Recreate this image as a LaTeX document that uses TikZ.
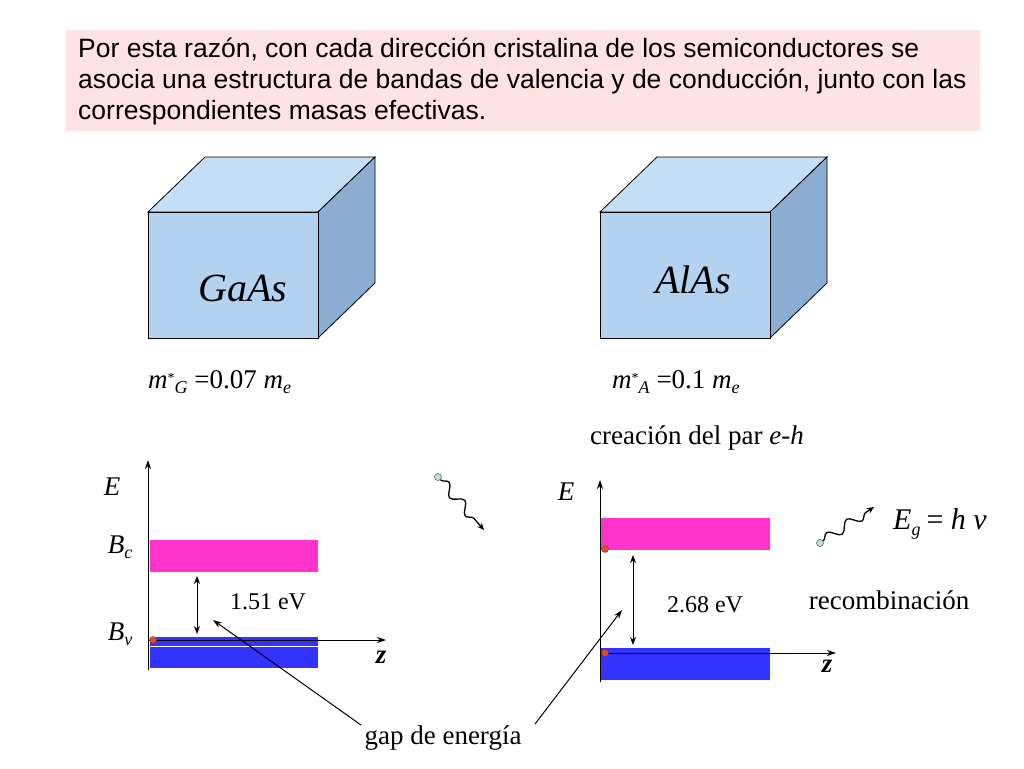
\documentclass[tikz,border=0pt]{standalone}
\usepackage{fontspec}
\setmainfont{Liberation Serif}
\newfontfamily\arial{Liberation Sans}
\usetikzlibrary{decorations.pathmorphing,arrows.meta}
\definecolor{boxpink}{RGB}{255,226,228}
\definecolor{front}{RGB}{178,210,240}
\definecolor{topc}{RGB}{196,222,246}
\definecolor{sidec}{RGB}{140,172,210}
\definecolor{cband}{RGB}{255,51,204}
\definecolor{vband}{RGB}{51,51,255}
\definecolor{dotred}{RGB}{240,70,40}
\definecolor{phot}{RGB}{190,225,225}
\tikzset{
 face/.style={draw=black,line width=0.8pt},
 lbl/.style={inner sep=0pt,font=\fontsize{27}{30}\selectfont},
 ax/.style={-{Stealth[length=9pt,width=6pt]},line width=1pt},
 dbl/.style={{Stealth[length=8pt,width=6pt]}-{Stealth[length=8pt,width=6pt]},line width=1pt},
 ptr/.style={-{Stealth[length=9pt,width=6pt]},line width=1pt},
 edot/.style={circle,fill=dotred,draw=black!70,line width=0.4pt,minimum size=7pt,inner sep=0pt},
 pdot/.style={circle,fill=phot,draw=black!70,line width=0.5pt,minimum size=7pt,inner sep=0pt},
 wave/.style={decorate,decoration={snake,amplitude=5pt,segment length=24pt,post length=5pt},line width=1.3pt,-{Stealth[length=7pt,width=6pt]}}
}
\begin{document}
\begin{tikzpicture}[x=1pt,y=-1pt]
\useasboundingbox (0,0) rectangle (1024,768);
% text box
\node[fill=boxpink,minimum width=914pt,minimum height=101pt,anchor=north west,inner sep=0pt] (tb) at (66,30) {};
\node[anchor=north west,align=left,inner sep=0pt,font=\arial\fontsize{26.5}{31}\selectfont] (tt) at (78,38) {Por esta razón, con cada dirección cristalina de los semiconductores se\\asocia una estructura de bandas de valencia y de conducción, junto con las\\correspondientes masas efectivas.};
% cubes
\foreach \x in {148,600}{
 \fill[topc,face] (\x,212) -- (\x+57,157) -- (\x+227,157) -- (\x+170,212) -- cycle;
 \fill[sidec,face] (\x+170,212) -- (\x+227,157) -- (\x+227,283) -- (\x+170,338) -- cycle;
 \fill[front,face] (\x,212) rectangle (\x+170,338);
}
\node[lbl,font=\fontsize{40}{44}\selectfont\itshape] (ga) at (243,288) {GaAs};
\node[lbl,font=\fontsize{40}{44}\selectfont\itshape] (al) at (693,280) {AlAs};
\node[lbl,anchor=west] (mg) at (148,382) {\textit{m}\raisebox{6pt}{\fontsize{14}{14}\selectfont *}\raisebox{-5pt}{\fontsize{18}{18}\selectfont\textit{G}} =0.07 \textit{m}\raisebox{-5pt}{\fontsize{18}{18}\selectfont\textit{e}}};
\node[lbl,anchor=west] (ma) at (612,382) {\textit{m}\raisebox{6pt}{\fontsize{14}{14}\selectfont *}\raisebox{-5pt}{\fontsize{18}{18}\selectfont\textit{A}} =0.1 \textit{m}\raisebox{-5pt}{\fontsize{18}{18}\selectfont\textit{e}}};
\node[lbl] (cr) at (697,438) {creación del par \textit{e}-\textit{h}};
% left band diagram
\fill[cband] (150,540) rectangle (318,572);
\fill[vband] (150,637) rectangle (318,668);
\draw[white,line width=1pt] (150,646) -- (318,646);
\coordinate (la0) at (148,670); \coordinate (la1) at (148,460);
\draw[ax] (la0) -- (la1);
\coordinate (lz0) at (148,640); \coordinate (lz1) at (386,640);
\draw[ax] (lz0) -- (lz1);
\node[edot] (ld) at (153,640) {};
\coordinate (lg0) at (197,576); \coordinate (lg1) at (197,634);
\draw[dbl] (lg0) -- (lg1);
\node[lbl,font=\fontsize{24}{26}\selectfont] (l151) at (268,602) {1.51 eV};
\node[lbl] (lE) at (112,487) {\textit{E}};
\node[lbl] (lBc) at (120,547) {\textit{B}\raisebox{-5pt}{\fontsize{18}{18}\selectfont\textit{c}}};
\node[lbl] (lBv) at (120,634) {\textit{B}\raisebox{-5pt}{\fontsize{18}{18}\selectfont\textit{v}}};
\node[lbl] (lz) at (381,657) {\textbf{\textit{z}}};
% right band diagram
\fill[cband] (600,518) rectangle (770,550);
\fill[vband] (600,648) rectangle (770,680);
\coordinate (ra0) at (600,682); \coordinate (ra1) at (600,480);
\draw[ax] (ra0) -- (ra1);
\coordinate (rz0) at (600,653); \coordinate (rz1) at (836,653);
\draw[ax] (rz0) -- (rz1);
\node[edot] (rd1) at (605,549) {};
\node[edot] (rd2) at (605,653) {};
\coordinate (rg0) at (633,555); \coordinate (rg1) at (633,645);
\draw[dbl] (rg0) -- (rg1);
\node[lbl,font=\fontsize{24}{26}\selectfont] (r268) at (705,605) {2.68 eV};
\node[lbl] (rE) at (566,492) {\textit{E}};
\node[lbl] (rz) at (827,666) {\textbf{\textit{z}}};
\node[lbl] (rec) at (889,600) {recombinación};
\node[lbl,font=\fontsize{30}{32}\selectfont] (eg) at (940,524) {\textit{E}\raisebox{-6pt}{\fontsize{18}{18}\selectfont\textit{g}}\hspace{6pt}= \textit{h} \textit{ν}};
% photons
\node[pdot] (p1) at (438,477) {};
\coordinate (p1e) at (484,530);
\draw[wave] (p1) -- (p1e);
\node[pdot] (p2) at (820,543) {};
\coordinate (p2e) at (874,507);
\draw[wave] (p2) -- (p2e);
% gap label
\node[lbl,font=\fontsize{27}{30}\selectfont] (gap) at (443,738) {gap de energía};
\coordinate (gt1) at (213,620); \coordinate (gt2) at (622,610);
\draw[ptr] (361,725) -- (gt1);
\draw[ptr] (535,724) -- (gt2);
\end{tikzpicture}
\end{document}
